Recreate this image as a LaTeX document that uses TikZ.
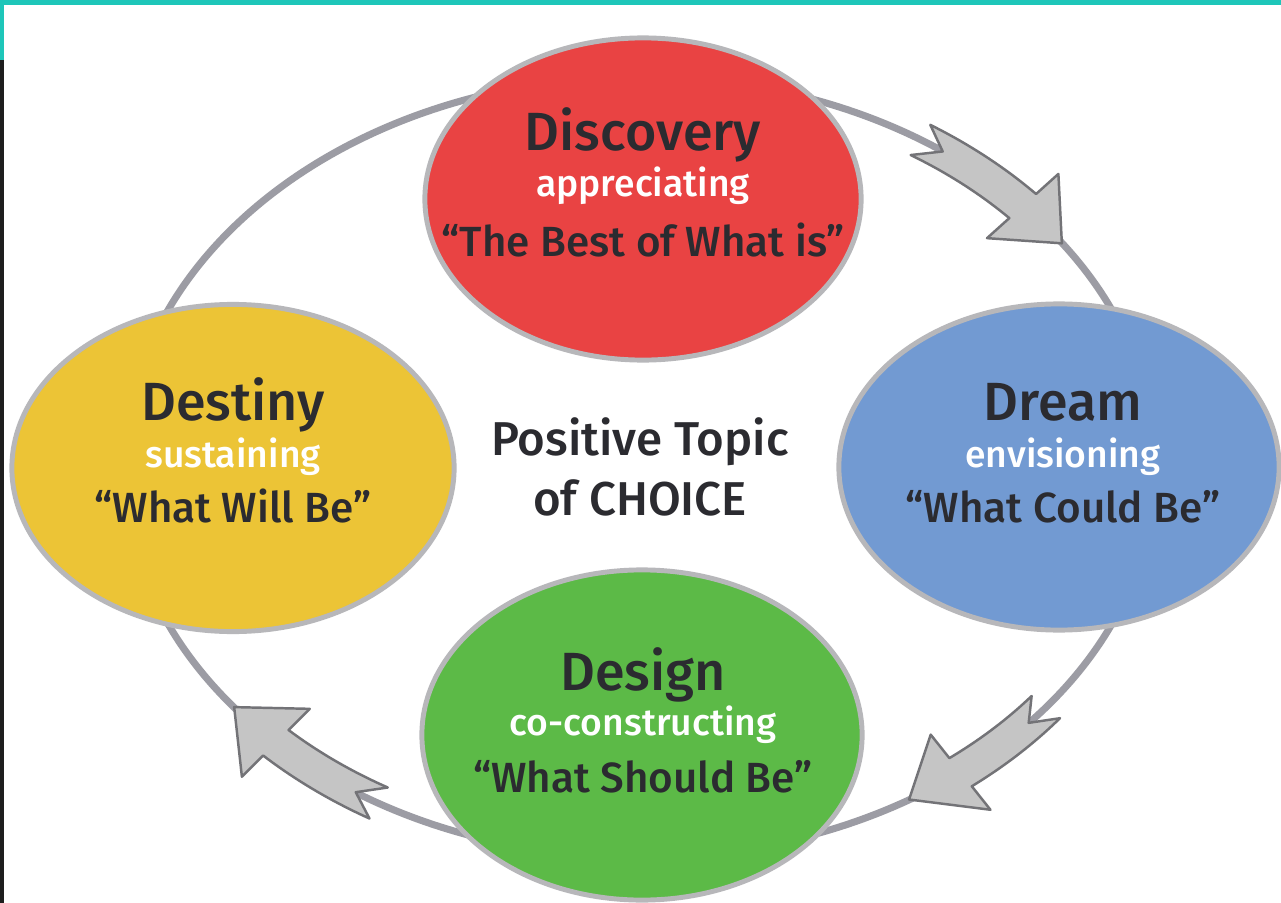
\documentclass[tikz,border=0pt]{standalone}
\usepackage{fontspec}
\setmainfont{Fira Sans Medium}
\usepackage{tikz}
\usetikzlibrary{shapes.geometric, positioning}
\definecolor{ringgray}{HTML}{9C9CA4}
\definecolor{rimgray}{HTML}{B7B7BA}
\definecolor{arrowgray}{HTML}{C5C5C5}
\definecolor{arrowedge}{HTML}{737377}
\definecolor{discred}{HTML}{E94343}
\definecolor{dreamblue}{HTML}{729AD2}
\definecolor{designgreen}{HTML}{5CBA47}
\definecolor{destinyyellow}{HTML}{ECC436}
\definecolor{stripteal}{HTML}{1EC6B9}
\definecolor{sidedark}{HTML}{1E1E1E}
\definecolor{inkdark}{HTML}{2B2B30}
\tikzstyle{bubble} = [ellipse, draw = rimgray, line width = 1.4pt, inner sep = 0pt]
\tikzstyle{phase} = [anchor = base, text = inkdark, font = \fontsize{15.3}{18}\selectfont]
\tikzstyle{verb} = [anchor = base, text = white, font = \fontsize{10.6}{13}\selectfont]
\tikzstyle{motto} = [anchor = base, text = inkdark, font = \fontsize{12}{15}\selectfont]
\tikzstyle{band} = [fill = arrowgray, draw = arrowedge, line width = 0.7pt, line join = round]
% curved block arrow on the ring: tail angle, neck angle, tip angle
\newcommand{\ringarrow}[3]{%
  \path [band] plot[domain=#1:#2, samples=20] ({640+533*cos(\x)}, {467+408*sin(\x)})
    -- ({640+563*cos(#2)}, {467+438*sin(#2)})
    -- ({640+515*cos(#3)}, {467+390*sin(#3)})
    -- ({640+467*cos(#2)}, {467+342*sin(#2)})
    -- plot[domain=#2:#1, samples=20] ({640+497*cos(\x)}, {467+372*sin(\x)})
    -- ({640+515*cos(#1+3)}, {467+390*sin(#1+3)}) -- cycle;}

\begin{document}
\begin{tikzpicture}[x = 0.01cm, y = -0.01cm]
			\useasboundingbox (0, 0) rectangle (1281, 903);
			% Frame
			\fill [white] (0, 0) rectangle (1281, 903);
			\fill [stripteal] (0, 0) rectangle (1281, 5);
			\fill [stripteal] (0, 0) rectangle (4, 60);
			\fill [sidedark] (0, 60) rectangle (4, 903);

			% Ring and arrows
			\coordinate (ringc) at (640, 467);
			\draw [ringgray, line width = 2pt] (ringc) ellipse [x radius = 5.15cm, y radius = 3.9cm];
			\ringarrow{-57}{-42}{-35}
			\ringarrow{38}{51.5}{58.5}
			\ringarrow{120.5}{135}{142}

			% Place nodes
			\node [bubble, fill = discred, minimum width = 4.36cm, minimum height = 3.22cm] (discovery) at (643, 199) {};
			\node [bubble, fill = dreamblue, minimum width = 4.4cm, minimum height = 3.26cm] (dream) at (1059, 467) {};
			\node [bubble, fill = designgreen, minimum width = 4.4cm, minimum height = 3.3cm] (design) at (642, 735) {};
			\node [bubble, fill = destinyyellow, minimum width = 4.42cm, minimum height = 3.27cm] (destiny) at (233, 468) {};

			\node [phase] (discovery-t) at (643, 150) {Discovery};
			\node [verb] (discovery-v) at (643, 196) {appreciating};
			\node [motto] (discovery-m) at (643, 256) {“The Best of What is”};

			\node [phase] (dream-t) at (1063, 420) {Dream};
			\node [verb] (dream-v) at (1063, 467) {envisioning};
			\node [motto] (dream-m) at (1063, 522) {“What Could Be”};

			\node [phase] (design-t) at (643, 690) {Design};
			\node [verb] (design-v) at (643, 735) {co-constructing};
			\node [motto] (design-m) at (643, 792) {“What Should Be”};

			\node [phase] (destiny-t) at (233, 420) {Destiny};
			\node [verb] (destiny-v) at (233, 467) {sustaining};
			\node [motto] (destiny-m) at (233, 522) {“What Will Be”};

			\node [motto, font = \fontsize{13.5}{16}\selectfont] (topic-a) at (640, 455) {Positive Topic};
			\node [motto, font = \fontsize{13.5}{16}\selectfont] (topic-b) at (640, 515) {of CHOICE};
\end{tikzpicture}
\end{document}
